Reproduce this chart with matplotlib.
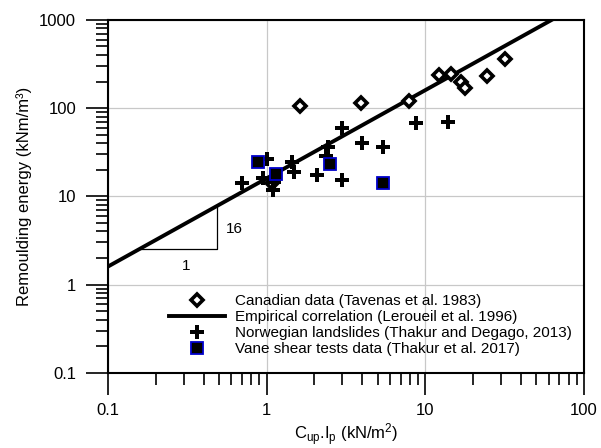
import matplotlib
matplotlib.use("Agg")
import matplotlib.pyplot as plt
from matplotlib.ticker import LogLocator, NullFormatter, FixedLocator, FixedFormatter

plt.rcParams['font.family'] = ['Liberation Sans', 'DejaVu Sans']
plt.rcParams['mathtext.default'] = 'regular'

# Canadian data (Tavenas et al. 1983)
can_x = [1.08, 1.62, 3.93, 7.88, 12.2, 14.6, 16.7, 17.8, 24.3, 31.6]
can_y = [14.0, 105, 115, 120, 239, 243, 199, 167, 231, 357]

# Empirical correlation (Leroueil et al. 1996), end points
emp_x = [0.1, 62.5]
emp_y = [1.6, 1000]

# Norwegian landslides (Thakur and Degago, 2013)
nor_x = [0.70, 0.95, 1.00, 1.10, 1.12, 1.44, 1.48, 2.07, 2.35, 2.45, 2.99, 3.00, 3.97, 5.43, 8.7, 13.9]
nor_y = [14.3, 16.0, 26.5, 11.8, 14.5, 24.5, 19.0, 17.5, 28.5, 36.3, 59.7, 15.2, 40.4, 35.8, 68.0, 70.0]

# Vane shear tests data (Thakur et al. 2017)
vane_x = [0.886, 1.14, 2.50, 5.43]
vane_y = [24.3, 18.1, 23.0, 14.2]

# slope triangle
tri_x = [0.16, 0.485, 0.485]
tri_y = [2.56, 2.56, 7.76]

ticks = [0.1, 1, 10, 100, 1000]
tick_labels = ["0.1", "1", "10", "100", "1000"]

fig = plt.figure(figsize=(6.01, 4.48), dpi=100)
ax = fig.add_axes([0.1797, 0.168, 0.7920, 0.7875])

ax.set_xscale("log")
ax.set_yscale("log")
ax.set_xlim(0.1, 100)
ax.set_ylim(0.1, 1000)

ax.plot(tri_x, tri_y, color="black", lw=0.9, zorder=2)
ax.text(0.63, 4.3, "16", fontsize=11, ha="center", va="center")
ax.text(0.313, 1.64, "1", fontsize=11, ha="center", va="center")

ax.plot(can_x, can_y, ls="none", marker="D", ms=6, mfc="white", mec="black",
        mew=2.6, label="Canadian data (Tavenas et al. 1983)", zorder=4)
ax.plot(emp_x, emp_y, color="black", lw=2.8,
        label="Empirical correlation (Leroueil et al. 1996)", zorder=3)
ax.plot(nor_x, nor_y, ls="none", marker="P", ms=10, color="black", mew=0,
        label="Norwegian landslides (Thakur and Degago, 2013)", zorder=5)
ax.plot(vane_x, vane_y, ls="none", marker="s", ms=8, mfc="black", mec="#0000cc",
        mew=1.3, label="Vane shear tests data (Thakur et al. 2017)", zorder=6)

ax.xaxis.set_major_locator(FixedLocator(ticks[:4]))
ax.xaxis.set_major_formatter(FixedFormatter(tick_labels[:4]))
ax.yaxis.set_major_locator(FixedLocator(ticks))
ax.yaxis.set_major_formatter(FixedFormatter(tick_labels))
for a in (ax.xaxis, ax.yaxis):
    a.set_minor_locator(LogLocator(base=10, subs=range(2, 10), numticks=20))
    a.set_minor_formatter(NullFormatter())

ax.grid(True, which="major", color="#c8c8c8", lw=0.9)
ax.set_axisbelow(True)
ax.tick_params(which="major", direction="out", length=16, width=1.2,
               labelsize=12, pad=6)
ax.tick_params(axis="y", which="major", pad=7)
ax.tick_params(which="minor", direction="out", length=8.5, width=1.2)
for s in ax.spines.values():
    s.set_linewidth(1.5)

ax.set_xlabel("C$_{up}$.I$_{p}$ (kN/m$^{2}$)", fontsize=12, labelpad=2)
ax.set_ylabel("Remoulding energy (kNm/m³)", fontsize=12, labelpad=5)

ax.legend(loc="lower left", bbox_to_anchor=(0.112, 0.025), frameon=False,
          fontsize=11, handlelength=3.7, handletextpad=0.65, labelspacing=0.14,
          borderpad=0)

fig.savefig("out.png", dpi=100)
